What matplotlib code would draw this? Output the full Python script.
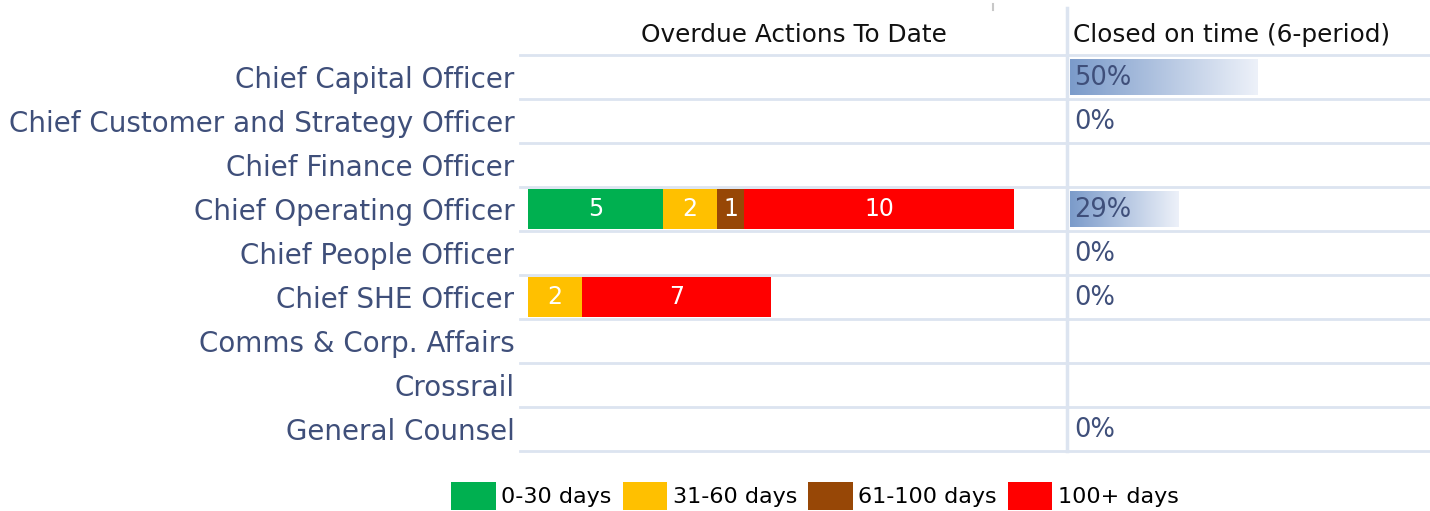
import numpy as np
import matplotlib.pyplot as plt
from matplotlib.patches import Patch
from matplotlib.colors import LinearSegmentedColormap

# data
officers = ['Chief Capital Officer', 'Chief Customer and Strategy Officer',
            'Chief Finance Officer', 'Chief Operating Officer',
            'Chief People Officer', 'Chief SHE Officer',
            'Comms & Corp. Affairs', 'Crossrail', 'General Counsel']
bands = ['0-30 days', '31-60 days', '61-100 days', '100+ days']
d0_30 = [0, 0, 0, 5, 0, 0, 0, 0, 0]
d31_60 = [0, 0, 0, 2, 0, 2, 0, 0, 0]
d61_100 = [0, 0, 0, 1, 0, 0, 0, 0, 0]
d100p = [0, 0, 0, 10, 0, 7, 0, 0, 0]
closed_pct = [0.50, 0.0, None, 0.29, 0.0, 0.0, None, None, 0.0]

band_colors = ['#00B050', '#FFC000', '#974706', '#FF0000']
label_col = '#3F4F7A'
grid_col = '#DCE4F0'

W, H = 1430, 511
fig = plt.figure(figsize=(W / 100, H / 100), dpi=100)


def px_axes(x0, y0, x1, y1):
    return fig.add_axes([x0 / W, 1 - y1 / H, (x1 - x0) / W, (y1 - y0) / H])


ax1 = px_axes(520, 55, 1067, 451)
ax2 = px_axes(1067, 55, 1430, 451)

n = len(officers)
y = np.arange(n)

# stacked overdue bars
left = np.zeros(n)
for vals, col in zip([d0_30, d31_60, d61_100, d100p], band_colors):
    vals = np.array(vals, dtype=float)
    ax1.barh(y, vals, left=left, height=0.91, color=col, edgecolor='none')
    for i in range(n):
        if vals[i] > 0:
            ax1.text(left[i] + vals[i] / 2, y[i], str(int(vals[i])), color='white',
                     ha='center', va='center', fontsize=17)
    left += vals

ax1.set_xlim(-0.3, 19.95)
ax1.set_ylim(n - 0.5, -0.5)
ax1.set_yticks(y)
ax1.set_yticklabels(officers, fontsize=20, color=label_col)
ax1.tick_params(axis='y', length=0, pad=4)
ax1.set_xticks([])

# closed on time gradient bars
cmap = LinearSegmentedColormap.from_list('db', ['#7B9BCA', '#EDF1F9'])
grad = np.linspace(0, 1, 256).reshape(1, -1)
for i, p in enumerate(closed_pct):
    if p is None:
        continue
    if p > 0:
        ax2.imshow(grad, cmap=cmap, aspect='auto',
                   extent=[0, p, i + 0.4, i - 0.4], zorder=1)
    ax2.text(0.012, i + 0.03, '{:.0f}%'.format(p * 100), fontsize=18.5, color=label_col,
             ha='left', va='center', zorder=2)
ax2.set_xlim(-0.008, 0.96)
ax2.set_ylim(n - 0.5, -0.5)
ax2.set_xticks([])
ax2.set_yticks([])

for ax in (ax1, ax2):
    for s in ax.spines.values():
        s.set_visible(False)
    for b in np.arange(-0.5, n + 0.5, 1):
        ax.axhline(b, color=grid_col, lw=2, zorder=0, clip_on=False)

fig.add_artist(plt.Line2D([1067 / W, 1067 / W], [1 - 451 / H, 1 - 8 / H],
                          color=grid_col, lw=2.5))
fig.add_artist(plt.Line2D([993 / W, 993 / W], [1 - 10 / H, 1 - 4 / H],
                          color='#C8C8C8', lw=1.5))

# headers
fig.text((520 + 1067) / 2 / W, 1 - 35 / H, 'Overdue Actions To Date',
         ha='center', va='center', fontsize=17.8, color='#111111')
fig.text(1073 / W, 1 - 35 / H, 'Closed on time (6-period)',
         ha='left', va='center', fontsize=17.8, color='#111111')

# legend
handles = [Patch(facecolor=c, edgecolor='none', label=b)
           for b, c in zip(bands, band_colors)]
fig.legend(handles=handles, loc='center', ncol=4, frameon=False,
           bbox_to_anchor=(815 / W, 1 - 496 / H), fontsize=16,
           handlelength=2.0, handleheight=1.6, handletextpad=0.25,
           columnspacing=0.5, borderaxespad=0, borderpad=0)

fig.savefig('out.png', dpi=100)
